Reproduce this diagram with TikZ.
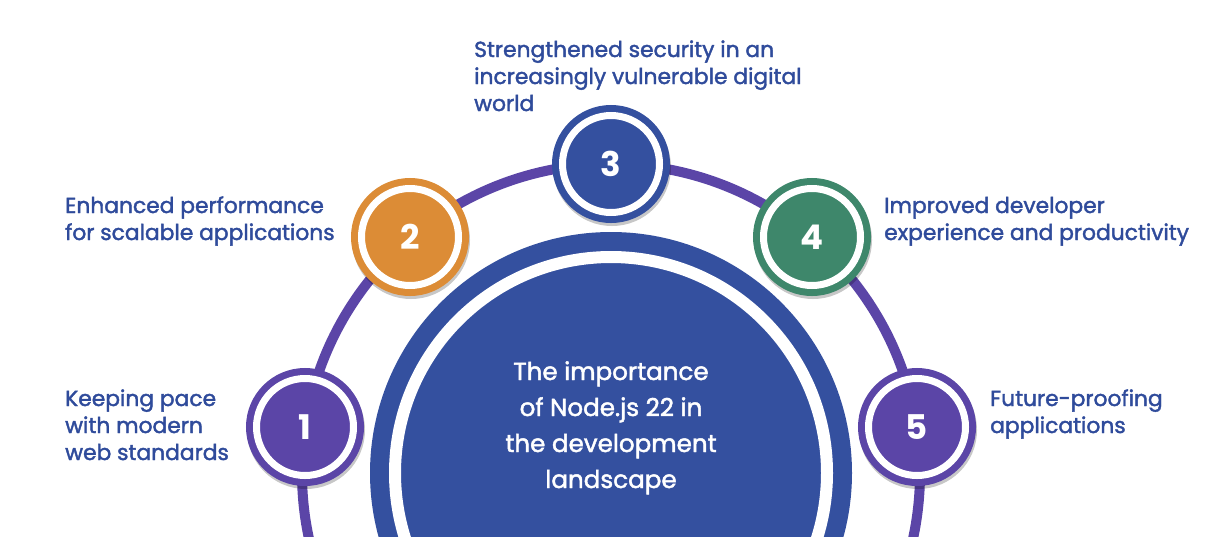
\documentclass[tikz,border=0pt]{standalone}
\usepackage{fontspec}
\setmainfont{Poppins}
\newfontfamily\lblfont{Poppins}[FakeBold=1.8]
\newfontfamily\numfont{Poppins}
\usetikzlibrary{positioning}

\definecolor{ringpurple}{HTML}{5B45A7}
\definecolor{ringorange}{HTML}{DC8C36}
\definecolor{ringblue}{HTML}{34509F}
\definecolor{ringgreen}{HTML}{3E876B}
\definecolor{inkblue}{HTML}{2F4B9B}

\begin{document}
\begin{tikzpicture}[x=1pt, y=-1pt,
		badge/.style={circle, minimum size=97pt, inner sep=0pt, fill=#1, draw=white, line width=7pt,
			text=white, font=\numfont\bfseries\fontsize{34}{34}\selectfont,
			preaction={draw=black, opacity=.22, line width=21pt, transform canvas={shift={(1pt,-3pt)}}},
			preaction={draw=#1, line width=21pt}},
		hub/.style={circle, minimum size=432pt, inner sep=0pt, fill=ringblue, draw=white, line width=12pt,
			preaction={draw=ringblue, line width=50pt}},
		track/.style={draw=ringpurple, line width=10pt},
		blurb/.style={anchor=base west, align=left, inner sep=0pt, text=inkblue,
			font=\lblfont\fontsize{21.8}{27}\selectfont}
		]
	
		\path[use as bounding box, clip] (0,0) rectangle (1212,536);
	
		% purple track behind the badges
		\coordinate (mid) at (611,473);
		\draw[track] (mid) circle[radius=309pt];
	
		\node[hub] (core) at (611,473) {};
		% base anchor sits on the last line
		\node[anchor=base, align=center, inner sep=0pt, text=white,
			font=\lblfont\fontsize{24.6}{36}\selectfont] (title) at (611,488)
			{The importance\\of Node.js 22 in\\the development\\landscape};
	
		\node[badge=ringpurple] (c1) at (305,427) {1};
		\node[badge=ringorange] (c2) at (410,237) {2};
		\node[badge=ringblue] (c3) at (611,164) {3};
		\node[badge=ringgreen] (c4) at (812,237) {4};
		\node[badge=ringpurple] (c5) at (917,427) {5};
	
		\node[blurb] (t1) at (65,460) {Keeping pace\\with modern\\web standards};
		\node[blurb] (t2) at (65,240) {Enhanced performance\\for scalable applications};
		\node[blurb] (t3) at (474,111) {Strengthened security in an\\increasingly vulnerable digital\\world};
		\node[blurb] (t4) at (884,240) {Improved developer\\experience and productivity};
		\node[blurb] (t5) at (990,433) {Future-proofing\\applications};
	
	\end{tikzpicture}
\end{document}
